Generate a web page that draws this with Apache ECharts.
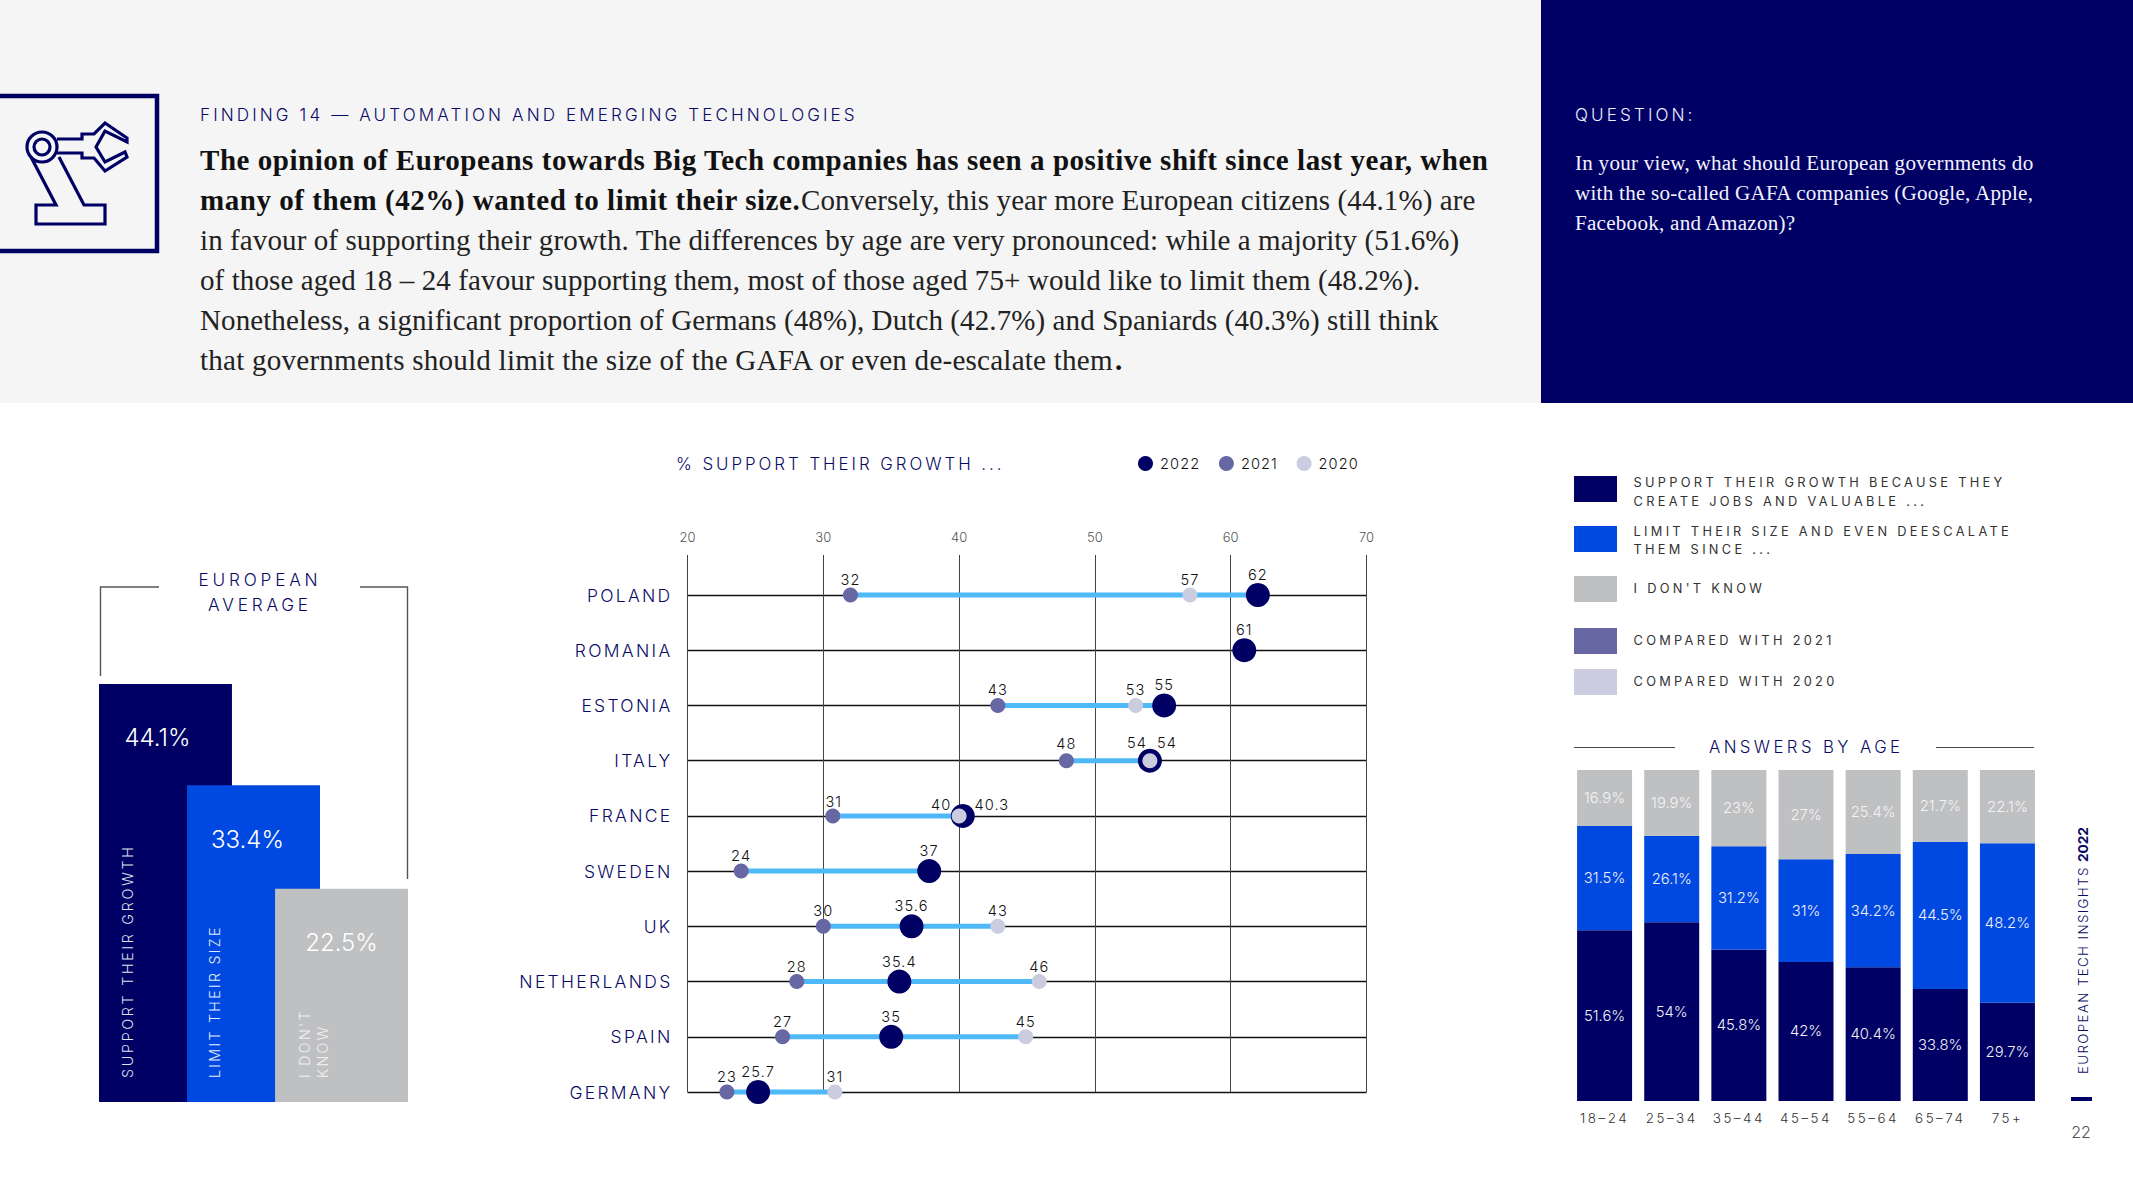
<!DOCTYPE html>
<html>
<head>
<meta charset="utf-8">
<style>
html,body{margin:0;padding:0;background:#fff;}
#chart{width:2133px;height:1200px;}
#chart text[style*="17.1px"]{letter-spacing:3.1px;}
#chart text[style*="17.5px"]{letter-spacing:2.3px;}
#chart text[style*="17.2px"]{letter-spacing:3.8px;}
#chart text[style*="14.3px"]{letter-spacing:2.7px;}
#chart text[style*="14.2px"]{letter-spacing:2.3px;}
#chart text[style*="12.8px"]{letter-spacing:3.3px;}
#chart text[style*="13.4px"]{letter-spacing:2.5px;}
#chart text[style*="13.3px"]{letter-spacing:1.4px;}
#chart text[style*="14.6px"]{letter-spacing:1.1px;}
#chart text[style*="16.9px"]{letter-spacing:2.95px;}
#chart text[style*="16.8px"]{letter-spacing:3.4px;}
#chart text[style*="29px"]{letter-spacing:.1px;}
#chart text[style*="bold 29px"]{letter-spacing:.54px;}
#chart text[style*="29.1px"]{letter-spacing:.22px;}
#chart text[style*="21.1px"]{letter-spacing:.25px;}
</style>
<script src="https://cdn.jsdelivr.net/npm/echarts@6/dist/echarts.min.js"></script>
</head>
<body>
<div id="chart"></div>
<script>
// ---------- data ----------
const averageNames = ['Support their growth', 'Limit their size', "I don't know"];
const averageValues = [44.1, 33.4, 22.5];

const countries = ['POLAND','ROMANIA','ESTONIA','ITALY','FRANCE','SWEDEN','UK','NETHERLANDS','SPAIN','GERMANY'];
// dot positions as drawn in the picture
const growth2022 = [62, 61, 55.1, 54.05, 40.27, 37.8, 36.5, 35.6, 35, 25.2];
const growth2021 = [32, null, 42.85, 47.9, 30.7, 23.95, 30, 28.05, 27, 22.9];
const growth2020 = [57, null, 53, 54.05, 40, null, 42.85, 45.9, 44.9, 30.85];
// numbers as printed beside the dots
const printed2022 = ['62','61','55','54','40.3','37','35.6','35.4','35','25.7'];
const printed2021 = ['32','','43','48','31','24','30','28','27','23'];
const printed2020 = ['57','','53','54','40','','43','46','45','31'];
const xTicks = [20, 30, 40, 50, 60, 70];

const ageGroups = ['18\u201324','25\u201334','35\u201344','45\u201354','55\u201364','65\u201374','75+'];
const ageSupport = [51.6, 54, 45.8, 42, 40.4, 33.8, 29.7];
const ageLimit = [31.5, 26.1, 31.2, 31, 34.2, 44.5, 48.2];
const ageDontKnow = [16.9, 19.9, 23, 27, 25.4, 21.7, 22.1];

// ---------- style ----------
const NAVY = '#000064', BLUE = '#0049e0', GREY = '#bfc0c2', C21 = '#6667a3', C20 = '#cccce0', SKY = '#4fb9f8';
const INK = '#0a0a66';
const SANS = 'Inter, "Open Sans", sans-serif';
const SERIF = '"Liberation Serif", serif';

// label placement around the dots (dx, dy from the dot centre)
const labelDefault = {2022: [0, -20], 2021: [0, -15], 2020: [0, -15]};
const labelNudge = {
  ITALY:  {2022: [17, -18], 2021: [0, -17], 2020: [-13, -18]},
  FRANCE: {2022: [29, -11], 2021: [1, -14], 2020: [-18, -11]}
};

function dotSeries(year, values, printed, color, size, z) {
  return {
    type: 'scatter', name: String(year), xAxisIndex: 1, yAxisIndex: 1, z: z,
    symbol: 'circle', symbolSize: size,
    itemStyle: {color: color, opacity: 1},
    data: values.map((v, i) => {
      if (v === null) return null;
      const off = (labelNudge[countries[i]] || labelDefault)[year];
      return {value: [v, i], label: {offset: off, formatter: printed[i]}};
    }).filter(d => d),
    label: {
      show: true, position: 'inside', color: '#111',
      fontFamily: SANS, fontSize: 14.6, fontWeight: 300
    }
  };
}

const connectorData = countries.map((c, i) => {
  const vals = [growth2022[i], growth2021[i], growth2020[i]].filter(v => v !== null);
  return [Math.min(...vals), Math.max(...vals), i];
});

// ---------- page furniture ----------
function T(text, x, y, font, fill, extra) {
  return Object.assign({
    type: 'text', x: x, y: y, z: 5, silent: true,
    style: {text: text, font: font, fill: fill, align: 'left', verticalAlign: 'middle'}
  }, extra || {});
}
function Ta(text, x, y, font, fill, align) {
  const t = T(text, x, y, font, fill);
  t.style.align = align;
  return t;
}
function Rect(x, y, w, h, fill) {
  return {type: 'rect', z: 1, silent: true, shape: {x: x, y: y, width: w, height: h}, style: {fill: fill}};
}
function Poly(points, stroke, lw) {
  return {type: 'polyline', z: 4, silent: true, shape: {points: points}, style: {fill: 'none', stroke: stroke, lineWidth: lw}};
}
const ROT = {rotation: Math.PI / 2};
const bodyF = '29px ' + SERIF, boldF = 'bold 29px ' + SERIF;
const kickF = '300 17.1px ' + SANS;
const avgF = '300 17.2px ' + SANS, rotF = '300 14.2px ' + SANS, legF = '400 12.8px ' + SANS;
const qF = '21.1px ' + SERIF;

const graphic = [
  Rect(0, 0, 1541, 403, '#f5f5f5'),
  Rect(1541, 0, 592, 403, NAVY),
  // icon
  Poly([[0, 96], [157, 96], [157, 251], [0, 251]], NAVY, 4.5),
  {type: 'ellipse', z: 4, silent: true, shape: {cx: 42, cy: 147, rx: 15, ry: 15}, style: {fill: 'none', stroke: NAVY, lineWidth: 3.2}},
  {type: 'ellipse', z: 4, silent: true, shape: {cx: 42, cy: 147, rx: 8, ry: 8}, style: {fill: 'none', stroke: NAVY, lineWidth: 3.2}},
  Poly([[31, 157], [56, 205], [36, 205], [36, 224], [105, 224], [105, 205], [84, 205], [59, 157]], NAVY, 3.2),
  Poly([[57, 139], [82, 139], [82, 134], [94, 134], [105, 123], [127, 138], [127, 142], [105, 131], [96, 147], [105, 162], [125, 152], [127, 157], [105, 171], [94, 158], [82, 158], [82, 153], [57, 153]], NAVY, 3.2),
  // header text
  T('FINDING 14 \u2014 AUTOMATION AND EMERGING TECHNOLOGIES', 200, 114, kickF, INK),
  T('The opinion of Europeans towards Big Tech companies has seen a positive shift since last year, when', 200, 160, boldF, '#111'),
  T('many of them (42%) wanted to limit their size.', 200, 200, boldF, '#111'),
  T('Conversely, this year more European citizens (44.1%) are', 801, 200, bodyF, '#222'),
  T('in favour of supporting their growth. The differences by age are very pronounced: while a majority (51.6%)', 200, 240, bodyF, '#222'),
  T('of those aged 18 \u2013 24 favour supporting them, most of those aged 75+ would like to limit them (48.2%).', 200, 280, bodyF, '#222'),
  T('Nonetheless, a significant proportion of Germans (48%), Dutch (42.7%) and Spaniards (40.3%) still think', 200, 320, bodyF, '#222'),
  T('that governments should limit the size of the GAFA or even de-escalate them', 200, 360, '29.1px ' + SERIF, '#222'),
  T('.', 1115, 360, boldF, '#111'),
  T('QUESTION:', 1575, 114, kickF, '#eef'),
  T('In your view, what should European governments do', 1575, 163, qF, '#f2f2ff'),
  T('with the so-called GAFA companies (Google, Apple,', 1575, 193, qF, '#f2f2ff'),
  T('Facebook, and Amazon)?', 1575, 223, qF, '#f2f2ff'),
  // European average
  Ta('EUROPEAN', 260, 579, avgF, INK, 'center'),
  Ta('AVERAGE', 260, 604, avgF, INK, 'center'),
  Poly([[100.5, 676], [100.5, 587], [159, 587]], '#555', 1.4),
  Poly([[360, 587], [407.5, 587], [407.5, 879]], '#555', 1.4),
  T('SUPPORT THEIR GROWTH', 127, 1078, '300 14.3px ' + SANS, '#dfe0f0', ROT),
  T('LIMIT THEIR SIZE', 214, 1078, rotF, '#e6ecff', ROT),
  T("I DON'T", 304, 1078, rotF, '#f2f2f2', ROT),
  T('KNOW', 322, 1078, rotF, '#f2f2f2', ROT),
  // middle title
  T('% SUPPORT THEIR GROWTH ...', 676, 464, '300 16.9px ' + SANS, INK),
  // right legend
  Rect(1574, 476, 43, 26, NAVY), Rect(1574, 526, 43, 26, BLUE), Rect(1574, 576, 43, 26, GREY),
  Rect(1574, 628, 43, 26, C21), Rect(1574, 669, 43, 26, C20),
  T('SUPPORT THEIR GROWTH BECAUSE THEY', 1633.5, 482, legF, '#333'),
  T('CREATE JOBS AND VALUABLE ...', 1633.5, 501, legF, '#333'),
  T('LIMIT THEIR SIZE AND EVEN DEESCALATE', 1633.5, 531.5, legF, '#333'),
  T('THEM SINCE ...', 1633.5, 549.5, legF, '#333'),
  T("I DON'T KNOW", 1633.5, 588, legF, '#333'),
  T('COMPARED WITH 2021', 1633.5, 640.5, legF, '#333'),
  T('COMPARED WITH 2020', 1633.5, 681.5, legF, '#333'),
  T('ANSWERS BY AGE', 1709, 747, '300 16.8px ' + SANS, INK),
  Poly([[1574, 747.5], [1675, 747.5]], '#444', 1.2),
  Poly([[1936, 747.5], [2034, 747.5]], '#444', 1.2),
  // side strip
  T('EUROPEAN TECH INSIGHTS', 2083, 1074, '300 13.3px ' + SANS, INK, ROT),
  T('2022', 2083, 862, 'bold 13.6px ' + SANS, INK, ROT),
  Rect(2071, 1097, 21, 4, NAVY),
  Ta('22', 2081, 1132, '300 16px ' + SANS, '#555', 'center')
];

// ---------- chart ----------
const option = {
  animation: false,
  backgroundColor: '#fff',
  textStyle: {fontFamily: SANS},
  graphic: graphic,
  legend: {
    data: ['2022', '2021', '2020'], left: 1133, top: 451, icon: 'circle',
    itemWidth: 15, itemHeight: 15, itemGap: 23,
    textStyle: {fontFamily: SANS, fontSize: 14.6, fontWeight: 300, color: '#111', padding: [0, 0, 0, 2]},
    selectedMode: false
  },
  grid: [
    {left: 99, top: 628, width: 309, height: 474},
    {left: 687.5, top: 595, width: 679, height: 497},
    {left: 687.5, top: 555, width: 679, height: 537},
    {left: 1571, top: 770, width: 470, height: 331}
  ],
  xAxis: [
    {gridIndex: 0, type: 'category', data: ['European average'], show: false},
    {gridIndex: 1, type: 'value', min: 20, max: 70, show: false},
    {gridIndex: 2, type: 'value', position: 'top', min: 20, max: 70, interval: 10,
      axisLine: {show: false}, axisTick: {show: false},
      axisLabel: {show: true, margin: 12, color: '#555', fontSize: 13, fontWeight: 300, fontFamily: SANS,
        customValues: xTicks, showMinLabel: true, showMaxLabel: true},
      splitLine: {show: true, lineStyle: {color: '#444', width: 1}}},
    {gridIndex: 3, type: 'category', data: ageGroups, axisLine: {show: false}, axisTick: {show: false},
      axisLabel: {margin: 10, color: '#333', fontSize: 13.4, fontWeight: 300, fontFamily: SANS, interval: 0}}
  ],
  yAxis: [
    {gridIndex: 0, type: 'value', min: 0, max: 50, show: false},
    {gridIndex: 1, type: 'category', inverse: true, boundaryGap: false, data: countries,
      axisLine: {show: false}, axisTick: {show: false},
      axisLabel: {margin: 15, color: INK, fontSize: 17.5, fontWeight: 300, fontFamily: SANS, interval: 0},
      splitLine: {show: true, interval: 0, lineStyle: {color: '#111', width: 1.4}}},
    {gridIndex: 2, type: 'value', min: 0, max: 1, show: false},
    {gridIndex: 3, type: 'value', min: 0, max: 100, show: false}
  ],
  series: [
    ...averageValues.map((v, i) => ({
      type: 'bar', name: averageNames[i], xAxisIndex: 0, yAxisIndex: 0,
      barWidth: 133, barGap: '-33.8%',
      itemStyle: {color: [NAVY, BLUE, GREY][i]},
      data: [v],
      label: {show: true, position: 'insideTop', distance: 0, offset: [[-8, -6, 0][i], 42],
        color: '#fff', fontFamily: SANS, fontSize: 24, fontWeight: 300, formatter: p => p.value + '%'}
    })),
    {
      type: 'custom', name: 'range', xAxisIndex: 1, yAxisIndex: 1, z: 3, silent: true,
      encode: {x: [0, 1], y: 2},
      data: connectorData,
      renderItem: (params, api) => {
        const a = api.coord([api.value(0), api.value(2)]);
        const b = api.coord([api.value(1), api.value(2)]);
        return {type: 'line', shape: {x1: a[0], y1: a[1], x2: b[0], y2: b[1]}, style: {stroke: SKY, lineWidth: 5}};
      }
    },
    dotSeries(2022, growth2022, printed2022, NAVY, 24, 4),
    dotSeries(2021, growth2021, printed2021, C21, 15, 5),
    dotSeries(2020, growth2020, printed2020, C20, 15, 6),
    ...[[ageSupport, NAVY, 'Support'], [ageLimit, BLUE, 'Limit'], [ageDontKnow, GREY, 'Do not know']].map(s => ({
      type: 'bar', name: s[2] + ' by age', stack: 'age', xAxisIndex: 3, yAxisIndex: 3, barWidth: 55,
      itemStyle: {color: s[1]},
      data: s[0],
      label: {show: true, position: 'inside', color: s[1] === GREY ? '#f4f4f4' : '#f0f0f8',
        fontFamily: SANS, fontSize: 14.8, fontWeight: 300, formatter: p => p.value + '%'}
    }))
  ]
};

const chart = echarts.init(document.getElementById('chart'), null, {renderer: 'svg', width: 2133, height: 1200});
chart.setOption(option);
</script>
</body>
</html>
